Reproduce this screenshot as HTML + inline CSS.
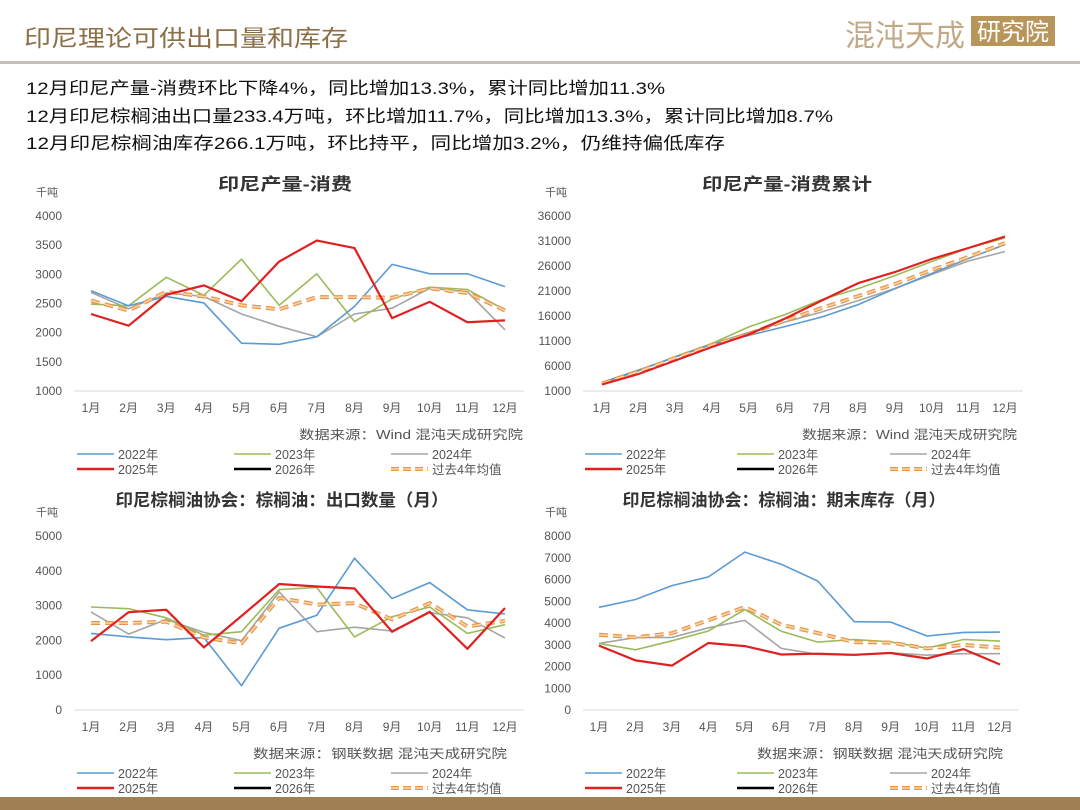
<!DOCTYPE html>
<html><head><meta charset="utf-8"><style>
html,body{margin:0;padding:0;background:#fff;width:1080px;height:810px;overflow:hidden}
svg text{font-family:"Liberation Sans","Noto Sans CJK SC",sans-serif}
</style></head><body>
<svg id="page" width="1080" height="810" viewBox="0 0 1080 810" xmlns="http://www.w3.org/2000/svg">
<text x="24" y="46" font-size="23" fill="#8b6f47" textLength="324" lengthAdjust="spacingAndGlyphs" font-family="Noto Sans CJK SC, sans-serif">印尼理论可供出口量和库存</text>
<g>
<text x="845" y="46" font-size="30" fill="#c2a985" textLength="120" lengthAdjust="spacingAndGlyphs" font-family="Noto Serif CJK SC, serif">混沌天成</text>
<rect x="971" y="16" width="84" height="30" fill="#b8955a"/>
<text x="1013" y="40" font-size="24" fill="#fff" text-anchor="middle" font-family="Noto Serif CJK SC, serif">研究院</text>
</g>
<rect x="0" y="61" width="1080" height="3" fill="#c4bfb8"/>
<g font-size="17" fill="#111">
<text x="26" y="94" textLength="639" lengthAdjust="spacingAndGlyphs">12月印尼产量-消费环比下降4%，同比增加13.3%，累计同比增加11.3%</text>
<text x="26" y="122" textLength="807" lengthAdjust="spacingAndGlyphs">12月印尼棕榈油出口量233.4万吨，环比增加11.7%，同比增加13.3%，累计同比增加8.7%</text>
<text x="26" y="149" textLength="699" lengthAdjust="spacingAndGlyphs">12月印尼棕榈油库存266.1万吨，环比持平，同比增加3.2%，仍维持偏低库存</text>
</g>
<rect x="0" y="797" width="1080" height="13" fill="#a07f55"/>
</svg>
<script>
const months = ['1月','2月','3月','4月','5月','6月','7月','8月','9月','10月','11月','12月'];
const seriesNames = ['2022年','2023年','2024年','2025年','2026年','过去4年均值'];
const c1_2022 = [2720,2460,2620,2510,1820,1800,1930,2450,3170,3010,3010,2790];
const c1_2023 = [2490,2460,2950,2640,3260,2470,3010,2190,2580,2780,2740,2390];
const c1_2024 = [2690,2410,2680,2620,2320,2110,1930,2320,2420,2760,2700,2050];
const c1_2025 = [2320,2120,2650,2810,2540,3220,3580,3450,2250,2530,2180,2210];
const c1_avg  = [2550,2380,2700,2620,2470,2400,2610,2610,2600,2760,2680,2380];
const c1_ticks = [1000,1500,2000,2500,3000,3500,4000];
const c2_2022 = [2700,5200,7800,10300,12100,13900,15800,18300,21500,24500,27500,30300];
const c2_2023 = [2500,5000,7900,10500,13800,16300,19300,21500,24100,26900,29600,31600];
const c2_2024 = [2700,5100,7800,10400,12700,14800,16800,19100,21500,24300,27000,28900];
const c2_2025 = [2300,4400,7100,9800,12300,15500,19100,22600,24800,27400,29600,31900];
const c2_avg  = [2500,4900,7600,10200,12400,15100,17600,20000,22400,25200,27800,30600];
const c2_ticks = [1000,6000,11000,16000,21000,26000,31000,36000];
const c3_2022 = [2200,2100,2020,2080,700,2350,2720,4360,3200,3660,2880,2760];
const c3_2023 = [2960,2910,2650,2150,2250,3460,3520,2100,2680,2960,2200,2450];
const c3_2024 = [2820,2180,2600,2230,1990,3390,2250,2380,2270,2800,2650,2070];
const c3_2025 = [1980,2810,2880,1800,2700,3620,3550,3490,2250,2820,1760,2930];
const c3_avg  = [2500,2500,2540,2080,1920,3220,3030,3070,2600,3070,2400,2560];
const c3_ticks = [0,1000,2000,3000,4000,5000];
const c4_2022 = [4720,5080,5720,6120,7260,6700,5930,4060,4040,3400,3570,3580];
const c4_2023 = [3060,2770,3180,3630,4620,3620,3120,3240,3130,2840,3240,3170];
const c4_2024 = [3060,3330,3340,3780,4120,2830,2560,2520,2630,2520,2590,2590];
const c4_2025 = [2960,2280,2040,3080,2940,2550,2590,2540,2620,2370,2800,2090];
const c4_avg  = [3460,3340,3530,4130,4730,3920,3540,3120,3100,2830,2990,2870];
const c4_ticks = [0,1000,2000,3000,4000,5000,6000,7000,8000];

const NS='http://www.w3.org/2000/svg';
const svg=document.getElementById('page');
function mk(tag,attrs,parent){const e=document.createElementNS(NS,tag);for(const k in attrs)e.setAttribute(k,attrs[k]);parent.appendChild(e);return e;}
const colors=['#5b9bd5','#9bbb59','#a5a5a5','#e02020','#000','#f0a050'];

function chart(cfg){
  const g=mk('g',{},svg);
  
  
  const yMin=cfg.ticks[0],yMax=cfg.ticks[cfg.ticks.length-1];
  const ys=v=>cfg.yBot-(v-yMin)/(yMax-yMin)*(cfg.yBot-cfg.yTop);
  const xs=i=>cfg.x1+i*(cfg.x12-cfg.x1)/11;
  const t=mk('text',{x:cfg.titleX-cfg.titleW/2,y:cfg.titleY,'font-size':17,'font-weight':'bold',fill:'#333',textLength:cfg.titleW,lengthAdjust:'spacingAndGlyphs'},g);
  t.textContent=cfg.title;
  
  
  const u=mk('text',{x:cfg.axL-38,y:cfg.yTop-20,'font-size':11,fill:'#555'},g);
  u.textContent='千吨';
  
  
  cfg.ticks.forEach(v=>{
    const tt=mk('text',{x:cfg.axL-12,y:ys(v)+4,'font-size':12,'text-anchor':'end',fill:'#555'},g);
    tt.textContent=v;
    
    
  });
  const ax=mk('line',{x1:cfg.axL,x2:cfg.axR,y1:cfg.yBot,y2:cfg.yBot,stroke:'#d9d9d9','stroke-width':1},g);
  
  
  months.forEach((m,i)=>{
    const tt=mk('text',{x:xs(i),y:cfg.yBot+21,'font-size':12,'text-anchor':'middle',fill:'#555'},g);
    tt.textContent=m;
    
    
  });
  const data=cfg.series;
  const drawLine=(arr,idx)=>{
    const d=arr.map((v,i)=>(i?'L':'M')+xs(i).toFixed(1)+','+ys(v).toFixed(1)).join(' ');
    if(idx===5){
      const p=mk('path',{d:d,fill:'none',stroke:'#e8964a','stroke-width':4,'stroke-dasharray':'9,5'},g);
      
      
      mk('path',{d:d,fill:'none',stroke:'#fbd7ac','stroke-width':1.5,'stroke-dasharray':'9,5'},g);
    } else {
      const p=mk('path',{d:d,fill:'none',stroke:colors[idx],'stroke-width':idx===3?2.2:1.6},g);
      
      
    }
  };
  [2,1,0].forEach(i=>drawLine(data[i],i));
  drawLine(data[4],5);
  drawLine(data[3],3);
  const src=mk('text',{x:cfg.srcX-cfg.srcW,y:cfg.yBot+48,'font-size':12.5,fill:'#555',textLength:cfg.srcW,lengthAdjust:'spacingAndGlyphs'},g);
  src.textContent=cfg.src;
  
  
  const cols=cfg.legX;
  seriesNames.forEach((n,i)=>{
    const cx=cols[i%3], cy=cfg.legY+(i<3?0:15);
    const lg=mk('g',{},g);
    
    
    if(i===5){
      mk('line',{x1:cx,x2:cx+37,y1:cy,y2:cy,stroke:'#e8964a','stroke-width':4,'stroke-dasharray':'8,4'},lg);
      mk('line',{x1:cx,x2:cx+37,y1:cy,y2:cy,stroke:'#fbd7ac','stroke-width':1.5,'stroke-dasharray':'8,4'},lg);
    } else mk('line',{x1:cx,x2:cx+37,y1:cy,y2:cy,stroke:colors[i],'stroke-width':i===3||i===4?2.5:1.6},lg);
    const tx=mk('text',{x:cx+41,y:cy+5,'font-size':12.5,fill:'#555'},lg);
    tx.textContent=n;
  });
}
chart({name:'chart-production-consumption',title:'印尼产量-消费',titleX:285,titleW:134,titleY:190,ticks:c1_ticks,yTop:216,yBot:391,x1:91,x12:505,axL:74,axR:524,
  series:[c1_2022,c1_2023,c1_2024,c1_2025,c1_avg],src:'数据来源：Wind  混沌天成研究院',srcX:523,srcW:224,legX:[77,234,391],legY:454});
chart({name:'chart-cumulative',title:'印尼产量-消费累计',titleX:787,titleW:170,titleY:190,ticks:c2_ticks,yTop:216,yBot:391,x1:602,x12:1005,axL:583,axR:1023,
  series:[c2_2022,c2_2023,c2_2024,c2_2025,c2_avg],src:'数据来源：Wind  混沌天成研究院',srcX:1017,srcW:215,legX:[585,737,890],legY:454});
chart({name:'chart-export-volume',title:'印尼棕榈油协会：棕榈油：出口数量（月）',titleX:282,titleW:333,titleY:506,ticks:c3_ticks,yTop:536,yBot:710,x1:91,x12:505,axL:74,axR:524,
  series:[c3_2022,c3_2023,c3_2024,c3_2025,c3_avg],src:'数据来源：钢联数据  混沌天成研究院',srcX:507,srcW:254,legX:[77,234,391],legY:773});
chart({name:'chart-ending-stock',title:'印尼棕榈油协会：棕榈油：期末库存（月）',titleX:784,titleW:323,titleY:506,ticks:c4_ticks,yTop:536,yBot:710,x1:599,x12:1000,axL:583,axR:1018,
  series:[c4_2022,c4_2023,c4_2024,c4_2025,c4_avg],src:'数据来源：钢联数据  混沌天成研究院',srcX:1003,srcW:246,legX:[585,737,890],legY:773});
</script>
</body></html>
